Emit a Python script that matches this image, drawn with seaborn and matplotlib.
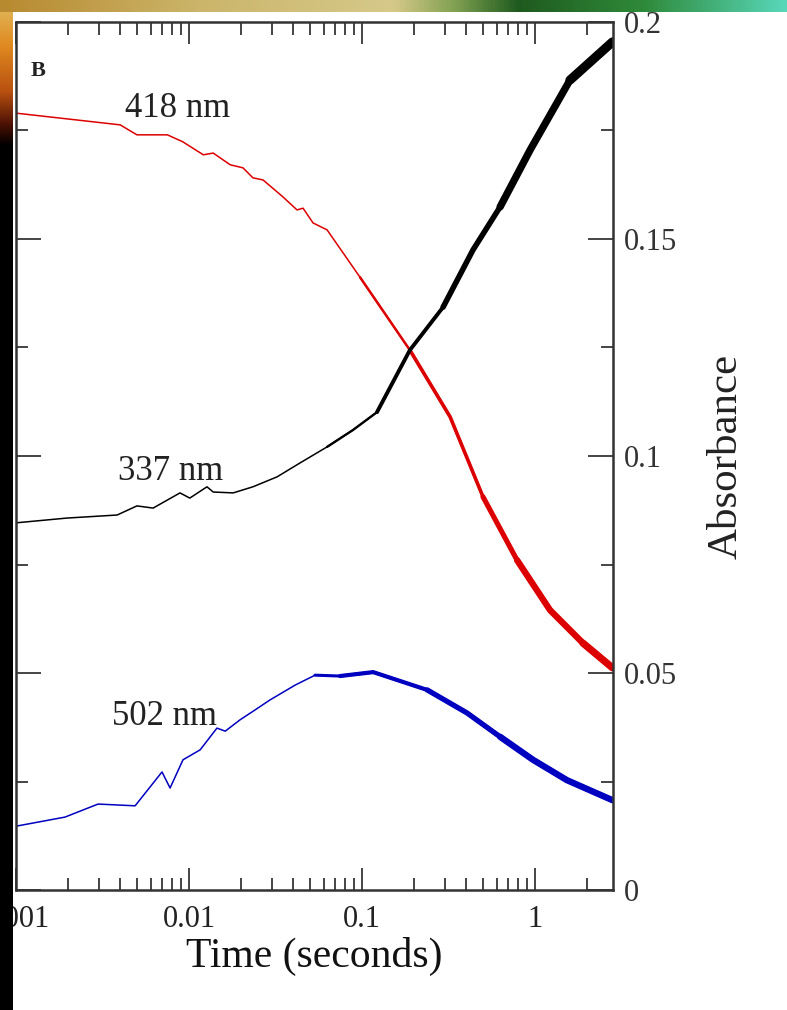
import numpy as np
import pandas as pd
import matplotlib
matplotlib.use("Agg")
import matplotlib.pyplot as plt
import seaborn as sns
from matplotlib.ticker import FixedLocator, FuncFormatter, NullFormatter, MultipleLocator, LogLocator
from matplotlib.colors import LinearSegmentedColormap
from matplotlib.patches import Rectangle

# ---------------- data ----------------
t418 = [0.001, 0.0040, 0.0050, 0.0075, 0.0092, 0.0121, 0.0138, 0.0173, 0.0205, 0.0234,
        0.0268, 0.0349, 0.0421, 0.0456, 0.0521, 0.0628, 0.0973, 0.189, 0.323, 0.50,
        0.787, 1.22, 1.89, 2.80]
a418 = [0.1790, 0.1763, 0.1740, 0.1740, 0.1724, 0.1694, 0.1698, 0.1671, 0.1664, 0.1641,
        0.1636, 0.1597, 0.1567, 0.1571, 0.1537, 0.1521, 0.1412, 0.1244, 0.1090, 0.0906,
        0.0760, 0.0645, 0.0569, 0.0512]

t337 = [0.001, 0.00197, 0.00384, 0.0050, 0.0062, 0.00887, 0.0101, 0.0127, 0.0138, 0.0180,
        0.0234, 0.0323, 0.0438, 0.0628, 0.0887, 0.122, 0.189, 0.294, 0.438, 0.628,
        0.936, 1.59, 2.80]
a337 = [0.0846, 0.0857, 0.0864, 0.0885, 0.0880, 0.0915, 0.0903, 0.0929, 0.0917, 0.0915,
        0.0929, 0.0952, 0.0984, 0.1021, 0.1060, 0.1101, 0.1244, 0.1343, 0.1475, 0.1574,
        0.1705, 0.1866, 0.1954]

t502 = [0.001, 0.00192, 0.00298, 0.00488, 0.00698, 0.00777, 0.00923, 0.0116, 0.0145, 0.0162,
        0.0197, 0.0241, 0.0294, 0.0410, 0.0535, 0.0746, 0.116, 0.238, 0.404, 0.628,
        0.973, 1.53, 2.80]
a502 = [0.0147, 0.0168, 0.0198, 0.0194, 0.0272, 0.0235, 0.0300, 0.0323, 0.0373, 0.0366,
        0.0392, 0.0415, 0.0438, 0.0472, 0.0495, 0.0493, 0.0502, 0.0461, 0.0408, 0.0353,
        0.0300, 0.0253, 0.0207]

series_names = ["418 nm", "337 nm", "502 nm"]
x_ticks = [0.001, 0.01, 0.1, 1]
y_ticks = [0, 0.05, 0.1, 0.15, 0.2]
x_title = "Time (seconds)"
y_title = "Absorbance"
panel = "B"

# ---------------- style ----------------
sns.set_style("ticks")
plt.rcParams["font.family"] = ["Liberation Serif", "DejaVu Serif"]

W, H = 787, 1010
fig = plt.figure(figsize=(W / 100, H / 100), dpi=100, facecolor="white")
L, R, T, B = 16, 612.7, 22, 890
ax = fig.add_axes([L / W, 1 - B / H, (R - L) / W, (B - T) / H])


def draw(t, a, color, steps):
    df = pd.DataFrame({"t": t, "a": a})
    sns.lineplot(data=df, x="t", y="a", color=color, lw=1.1, ax=ax,
                 estimator=None, sort=False, solid_capstyle="round")
    for t0, lw in steps:
        idx = int(np.searchsorted(df["t"].values, t0))
        sub = df.iloc[idx:]
        sns.lineplot(data=sub, x="t", y="a", color=color, lw=lw, ax=ax,
                     estimator=None, sort=False, solid_capstyle="round",
                     solid_joinstyle="round")


draw(t418, a418, "#dd0000", [(0.09, 1.8), (0.18, 2.6), (0.4, 3.7), (0.75, 4.6), (1.5, 5.2)])
draw(t337, a337, "#000000", [(0.06, 1.7), (0.12, 2.8), (0.28, 4.0), (0.6, 5.3), (1.5, 6.6)])
draw(t502, a502, "#0000c0", [(0.05, 2.2), (0.07, 3.0), (0.2, 3.8), (0.6, 4.6)])

ax.set_xscale("log")
ax.set_xlim(0.001, 2.81)
ax.set_ylim(0, 0.2)

ax.xaxis.set_major_locator(FixedLocator(x_ticks))
ax.xaxis.set_major_formatter(FuncFormatter(lambda v, p: "%g" % v))
ax.xaxis.set_minor_locator(LogLocator(base=10, subs=np.arange(2, 10)))
ax.xaxis.set_minor_formatter(NullFormatter())
ax.yaxis.set_major_locator(FixedLocator(y_ticks))
ax.yaxis.set_major_formatter(FuncFormatter(lambda v, p: "%g" % v))
ax.yaxis.set_minor_locator(MultipleLocator(0.025))

ax.tick_params(which="both", direction="in", top=True, bottom=True, left=True, right=True,
               labelleft=False, labelright=True, color="#444444", width=1.4)
ax.tick_params(axis="x", which="major", length=16, pad=11, labelsize=22, labelcolor="#222222")
ax.tick_params(axis="x", which="minor", length=9)
ax.tick_params(axis="y", which="major", length=18, pad=8, labelsize=22, labelcolor="#333333")
ax.tick_params(axis="y", which="minor", length=8.5)

for s in ax.spines.values():
    s.set_color("#333333")
    s.set_linewidth(1.8)

ax.set_xlabel(x_title, fontsize=30, labelpad=2, color="#111111")
ax.yaxis.set_label_position("right")
ax.set_ylabel(y_title, fontsize=31, labelpad=22, color="#222222", rotation=90)

ax.text(0.00426, 0.1781, series_names[0], fontsize=25, color="#222222", va="baseline", ha="left")
ax.text(0.00389, 0.0945, series_names[1], fontsize=25, color="#222222", va="baseline", ha="left")
ax.text(0.00359, 0.0380, series_names[2], fontsize=25, color="#222222", va="baseline", ha="left")
fig.text(31 / W, 1 - 76 / H, panel, fontsize=16, fontweight="bold", color="#222222",
         va="baseline", ha="left")

# ---------------- slide background fragments ----------------
deco = fig.add_axes([0, 0, 1, 1], zorder=10)
deco.patch.set_alpha(0)
deco.axis("off")
top_cmap = LinearSegmentedColormap.from_list(
    "top", [(0, "#b88a30"), (0.25, "#cbb56a"), (0.5, "#d6c98a"), (0.58, "#7fa050"),
            (0.66, "#1e5a1e"), (0.82, "#2f8a3a"), (1.0, "#58d6b8")])
deco.imshow(np.linspace(0, 1, 256)[None, :], extent=(0, W, 12, 0), cmap=top_cmap,
            aspect="auto", interpolation="bilinear", zorder=1)
deco.add_patch(Rectangle((0, 12), 13, H - 12, color="black", lw=0, zorder=0.5))
left_cmap = LinearSegmentedColormap.from_list(
    "left", [(0, "#e0b050"), (0.25, "#e08a20"), (0.6, "#b85010"), (0.85, "#4a1004"), (1, "#000000")])
deco.imshow(np.linspace(0, 1, 256)[:, None], extent=(0, 13, 145, 12), cmap=left_cmap,
            aspect="auto", interpolation="bilinear", zorder=2)
deco.set_xlim(0, W)
deco.set_ylim(H, 0)

fig.savefig("out.png", dpi=100, facecolor="white")
